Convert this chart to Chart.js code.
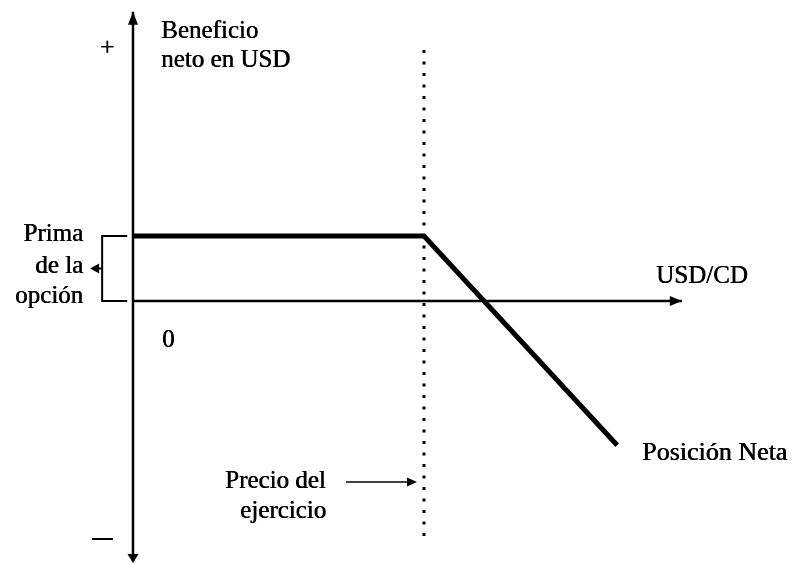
<!DOCTYPE html>
<html>
<head>
<meta charset="utf-8">
<script src="https://cdn.jsdelivr.net/npm/chart.js@4"></script>
<style>
  html, body { margin: 0; padding: 0; background: #fff; }
  canvas { display: block; }
</style>
</head>
<body>
<canvas id="payoff" width="792" height="563"></canvas>
<script>
// payoff of the net position (x = USD/CD rate, y = net profit in USD)
const netX = [0, 5, 8.32];
const netY = [1, 1, -2.22];
const strike = 5;
const premium = 1;

// axis extents in chart units
const xAxisEnd = 9.43;
const yAxisTop = 4.45;
const yAxisBottom = -4.0;
const strikeTop = 3.86;
const strikeBottom = -3.68;
const bracketLeft = -0.53;
const bracketRight = -0.1;

const xRange = [-2.285, 11.323];
const yRange = [-4.031, 4.631];

const yAxisLabel = ['Beneficio', 'neto en USD'];
const xAxisLabel = 'USD/CD';
const premiumLabel = ['Prima', 'de la', 'opción'];
const strikeLabel = ['Precio del', 'ejercicio'];
const netLabel = 'Posición Neta';
const signLabels = ['+', '−'];
const zeroLabel = '0';

const FONT = '"Liberation Serif", "Times New Roman", serif';

function toPoints(xs, ys) {
  return xs.map((x, i) => ({ x, y: ys[i] }));
}

function arrowHead(ctx, tipX, tipY, dx, dy, len, half) {
  // dx, dy: unit direction the arrow points to
  const bx = tipX - dx * len;
  const by = tipY - dy * len;
  ctx.beginPath();
  ctx.moveTo(tipX, tipY);
  ctx.lineTo(bx - dy * half, by + dx * half);
  ctx.lineTo(bx + dy * half, by - dx * half);
  ctx.closePath();
  ctx.fill();
}

const annotations = {
  id: 'annotations',
  afterDraw(chart) {
    const { ctx } = chart;
    const xs = chart.scales.x;
    const ys = chart.scales.y;
    ctx.save();
    ctx.fillStyle = '#000';
    ctx.strokeStyle = '#000';

    // arrow heads on the axes
    const ox = xs.getPixelForValue(0);
    arrowHead(ctx, ox, ys.getPixelForValue(yAxisTop), 0, -1, 13, 5);
    arrowHead(ctx, ox, ys.getPixelForValue(yAxisBottom) + 2, 0, 1, 9, 5.5);
    arrowHead(ctx, xs.getPixelForValue(xAxisEnd), ys.getPixelForValue(0), 1, 0, 12, 5);

    // arrow from the premium bracket
    const bx = xs.getPixelForValue(bracketLeft);
    const midY = (ys.getPixelForValue(premium) + ys.getPixelForValue(0)) / 2;
    arrowHead(ctx, bx - 12, midY, -1, 0, 9, 5);
    ctx.lineWidth = 2;
    ctx.beginPath();
    ctx.moveTo(bx, midY);
    ctx.lineTo(bx - 6, midY);
    ctx.stroke();

    // arrow pointing to the strike line
    const sx = xs.getPixelForValue(strike);
    ctx.lineWidth = 1.6;
    ctx.beginPath();
    ctx.moveTo(346, 482);
    ctx.lineTo(sx - 12, 482);
    ctx.stroke();
    arrowHead(ctx, sx - 7, 482, 1, 0, 10, 4.5);

    // text, drawn twice with a small shift to look like the heavier print
    const put = (t, x, y) => { ctx.fillText(t, x, y); ctx.fillText(t, x + 0.6, y); };
    ctx.font = '25px ' + FONT;
    ctx.textBaseline = 'alphabetic';
    ctx.textAlign = 'left';
    put(yAxisLabel[0], 161, 38);
    put(yAxisLabel[1], 161, 67);
    put(xAxisLabel, 656, 283);
    put(strikeLabel[0], 225, 488);
    put(strikeLabel[1], 240, 518);
    put(zeroLabel, 162, 347);
    ctx.font = '26px ' + FONT;
    put(netLabel, 642, 460);

    ctx.font = '25px ' + FONT;
    ctx.textAlign = 'right';
    put(premiumLabel[0], 83, 241);
    put(premiumLabel[1], 83, 273);
    put(premiumLabel[2], 83, 303);

    ctx.textAlign = 'center';
    ctx.font = '26px ' + FONT;
    put(signLabels[0], 107, 55);
    ctx.fillRect(92, 538, 21, 2);

    ctx.restore();
  },
};

const lineStyle = {
  showLine: true,
  pointRadius: 0,
  borderColor: '#000',
  fill: false,
  tension: 0,
};

new Chart(document.getElementById('payoff').getContext('2d'), {
  type: 'scatter',
  data: {
    datasets: [
      {
        ...lineStyle,
        label: 'Posición Neta',
        data: toPoints(netX, netY),
        borderWidth: 5,
        borderJoinStyle: 'miter',
      },
      {
        ...lineStyle,
        label: 'y axis',
        data: [{ x: 0, y: yAxisBottom }, { x: 0, y: yAxisTop }],
        borderWidth: 2.5,
      },
      {
        ...lineStyle,
        label: 'x axis',
        data: [{ x: 0, y: 0 }, { x: xAxisEnd, y: 0 }],
        borderWidth: 2.5,
      },
      {
        ...lineStyle,
        label: 'strike',
        data: [{ x: strike, y: strikeTop }, { x: strike, y: strikeBottom }],
        borderWidth: 3,
        borderDash: [3, 8.5],
      },
      {
        ...lineStyle,
        label: 'premium',
        data: [
          { x: bracketRight, y: premium },
          { x: bracketLeft, y: premium },
          { x: bracketLeft, y: 0 },
          { x: bracketRight, y: 0 },
        ],
        borderWidth: 2,
      },
    ],
  },
  options: {
    responsive: false,
    animation: false,
    devicePixelRatio: 1,
    layout: { padding: 0 },
    plugins: {
      legend: { display: false },
      tooltip: { enabled: false },
    },
    scales: {
      x: { type: 'linear', display: false, min: xRange[0], max: xRange[1] },
      y: { type: 'linear', display: false, min: yRange[0], max: yRange[1] },
    },
  },
  plugins: [annotations],
});
</script>
</body>
</html>
